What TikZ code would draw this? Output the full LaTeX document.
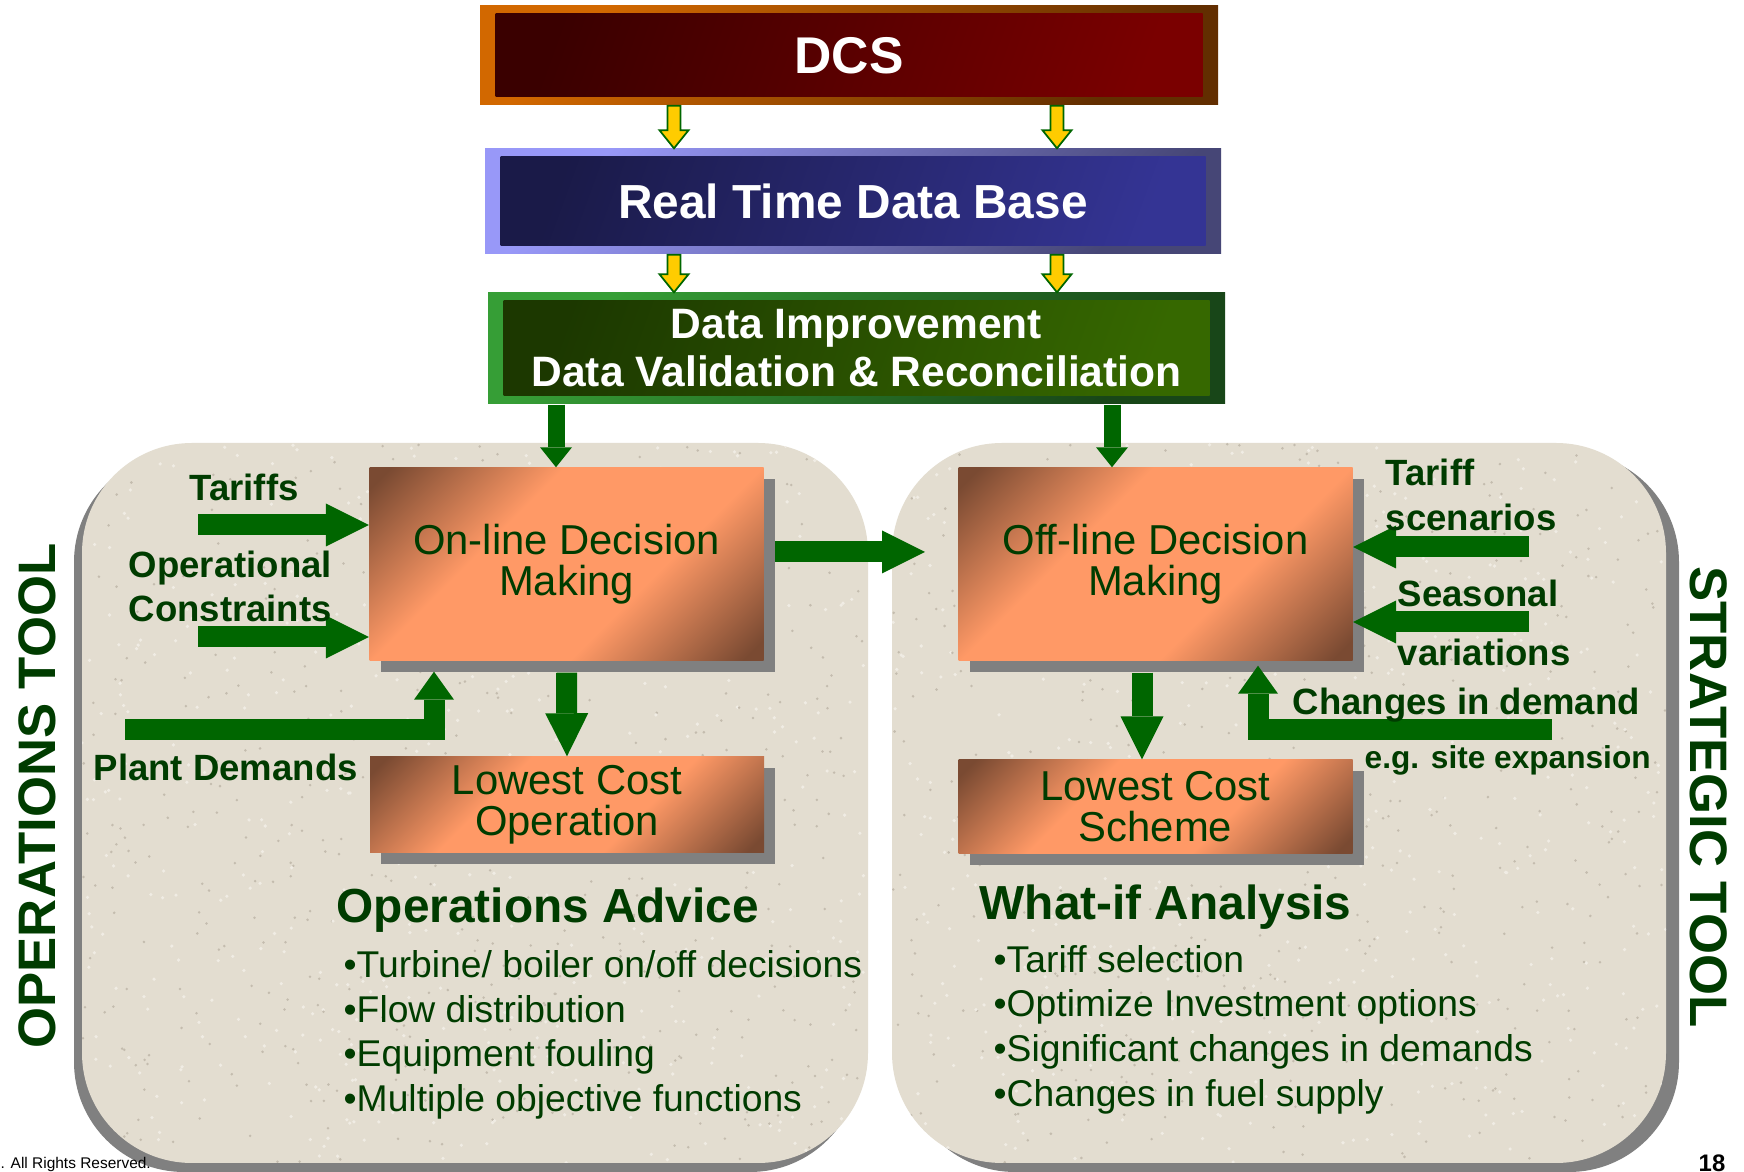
\documentclass[tikz,border=0pt]{standalone}
\usepackage{fontspec}
\setmainfont{Liberation Sans}
\usetikzlibrary{arrows.meta,calc,shadows}

\definecolor{dcsdark}{RGB}{58,0,0}
\definecolor{dcsred}{RGB}{122,0,0}
\definecolor{dcsrimA}{RGB}{210,104,0}
\definecolor{dcsrimB}{RGB}{98,46,0}
\definecolor{dbdark}{RGB}{26,26,72}
\definecolor{dbblue}{RGB}{52,52,148}
\definecolor{dbrimA}{RGB}{152,152,248}
\definecolor{dbrimB}{RGB}{70,70,118}
\definecolor{didark}{RGB}{28,56,0}
\definecolor{digreen}{RGB}{54,104,0}
\definecolor{dirimA}{RGB}{54,158,54}
\definecolor{dirimB}{RGB}{24,70,24}
\definecolor{boxbrown}{RGB}{122,74,50}
\definecolor{boxorange}{RGB}{255,153,102}
\definecolor{boxshadow}{RGB}{128,128,128}
\definecolor{panelbeige}{RGB}{227,221,208}
\definecolor{specklight}{RGB}{240,236,228}
\definecolor{speckdark}{RGB}{196,188,174}
\definecolor{flowgreen}{RGB}{0,102,0}
\definecolor{flowyellow}{RGB}{255,204,0}
\definecolor{txtgreen}{RGB}{0,60,0}

\pgfdeclareverticalshading{orangeband}{100bp}{color(0bp)=(boxbrown); color(17bp)=(boxbrown);
  color(38bp)=(boxorange); color(62bp)=(boxorange); color(83bp)=(boxbrown); color(100bp)=(boxbrown)}

\tikzset{
  topbox/.style={inner sep=0pt, text=white, align=center},
  inset/.style 2 args={path picture={\shade[left color=#1, right color=#2, shading angle=70]
      ([shift={(1.55mm,-0.8mm)}]path picture bounding box.north west) rectangle
      ([shift={(-1.55mm,0.8mm)}]path picture bounding box.south east);}},
  decbox/.style={shading=orangeband, shading angle=45,
      text=txtgreen, align=center, inner sep=0pt, minimum width=39.4mm,
      font=\fontsize{11.9}{11.7}\selectfont,
      drop shadow={shadow xshift=1.1mm, shadow yshift=-1.1mm, fill=boxshadow, opacity=1}},
  flow/.style={draw=flowgreen, line width=2.1mm, -{Triangle[length=4.3mm, width=4.3mm, line width=0pt]}},
  thinflow/.style={draw=flowgreen, line width=1.7mm, -{Triangle[length=2mm, width=3.2mm, line width=0pt]}},
  elbow/.style={draw=flowgreen, line width=2.1mm, line join=miter, -{Triangle[length=2.8mm, width=4mm, line width=0pt]}},
  labeltext/.style={text=txtgreen, font=\fontsize{10.4}{12.5}\bfseries, inner sep=0pt},
  heading/.style={text=txtgreen, font=\fontsize{13.6}{16}\bfseries, inner sep=0pt, anchor=west},
  bullets/.style={text=txtgreen, font=\fontsize{10.6}{12.7}\selectfont, inner sep=0pt, anchor=west, align=left},
  sidetag/.style={text=txtgreen, font=\fontsize{15}{18}\bfseries, inner sep=0pt}
}

% yellow block arrow between two points on one vertical
\newcommand\yarrow[2]{%
  \filldraw[fill=flowyellow, draw=flowgreen, line width=0.5pt, line join=miter]
    let \p1=(#1), \p2=(#2) in
    (\x1-0.65mm,\y1) -- (\x1-0.65mm,\y2+1.8mm) -- (\x1-1.45mm,\y2+1.8mm) -- (\x1,\y2)
    -- (\x1+1.45mm,\y2+1.8mm) -- (\x1+0.65mm,\y2+1.8mm) -- (\x1+0.65mm,\y1) -- cycle;}

% speckled beige panel: shadow offset, then face
\newcommand\panel[3]{%
  \fill[boxshadow, rounded corners=11mm] ($(#1)+(#3)$) rectangle ($(#2)+(#3)$);
  \fill[panelbeige, rounded corners=11mm] (#1) rectangle (#2);
  \begin{scope}
    \clip[rounded corners=11mm] (#1) rectangle (#2);
    \foreach \k in {1,...,500}{
      \fill[specklight] ($(#1)!rnd!(#1 -| #2)+(0,rnd*720)$) circle (0.18mm);
      \fill[speckdark] ($(#1)!rnd!(#1 -| #2)+(0,rnd*720)$) circle (0.14mm);}
  \end{scope}}

\begin{document}
\begin{tikzpicture}[x=0.1mm, y=-0.1mm]
		%%%%% START %%%%%
		\pgfmathsetseed{18}
		\useasboundingbox (0,0) rectangle (1744,1172);
		\fill[white] (0,0) rectangle (1744,1172);
		
		% panels
		\panel{82,443}{868,1163}{-8,9}
		\panel{892,443}{1666,1163}{13,9}
		
		% top chain
		\node[topbox, minimum width=73.8mm, minimum height=9.9mm, top color=dcsrimA, bottom color=dcsrimB, shading angle=45,
		      inset={dcsdark}{dcsred}, font=\fontsize{14.7}{16}\bfseries] (dcs) at (849,55.5) {DCS};
		\node[topbox, minimum width=73.6mm, minimum height=10.5mm, top color=dbrimA, bottom color=dbrimB, shading angle=45,
		      inset={dbdark}{dbblue}, font=\fontsize{13.6}{15}\bfseries] (rtdb) at (853,201.5) {Real Time Data Base};
		\node[topbox, minimum width=73.7mm, minimum height=11.1mm, top color=dirimA, bottom color=dirimB, shading angle=45,
		      inset={didark}{digreen}, font=\fontsize{12.1}{13.7}\bfseries] (dimp) at (856.5,348.5)
		      {Data Improvement\\Data Validation \& Reconciliation};
		
		\coordinate (ya) at (674,0);
		\coordinate (yb) at (1057,0);
		\yarrow{dcs.south -| ya}{rtdb.north -| ya}
		\yarrow{dcs.south -| yb}{rtdb.north -| yb}
		\yarrow{rtdb.south -| ya}{dimp.north -| ya}
		\yarrow{rtdb.south -| yb}{dimp.north -| yb}
		
		% decision boxes
		\node[decbox, minimum height=19.3mm] (online) at (566.5,564.5) {On-line Decision\\Making};
		\node[decbox, minimum height=9.6mm] (lco) at (567,805) {Lowest Cost\\Operation};
		\node[decbox, minimum height=19.3mm] (offline) at (1155.5,564.5) {Off-line Decision\\Making};
		\node[decbox, minimum height=9.4mm] (lcs) at (1155.5,807) {Lowest Cost\\Scheme};
		
		% free ends
		\coordinate (xa) at (556,0);
		\coordinate (xb) at (1112,0);
		\coordinate (xc) at (1142,0);
		\coordinate (oo) at (925,552);
		\coordinate (tarS) at (198,525);
		\coordinate (conS) at (198,637);
		\coordinate (plantS) at (125,730);
		\coordinate (plantK) at (434,730);
		\coordinate (scenS) at (1529,547);
		\coordinate (seasS) at (1529,622);
		\coordinate (chgS) at (1552,730);
		\coordinate (chgK) at (1258,730);
		
		\draw[thinflow] (dimp.south -| xa) -- (online.north -| xa);
		\draw[thinflow] (dimp.south -| xb) -- (offline.north -| xb);
		
		\draw[flow] (tarS) -- (tarS -| online.west);
		\draw[flow] (conS) -- (conS -| online.west);
		\draw[elbow] (plantS) -- (plantK) -- ($(plantK |- online.south)+(0,10)$);
		\draw[flow] ($(online.south)+(0,11)$) -- (lco.north);
		\draw[flow] ($(online.east |- oo)+(11,0)$) -- (oo);
		
		\draw[flow] (scenS) -- (scenS -| offline.east);
		\draw[flow] (seasS) -- (seasS -| offline.east);
		\draw[elbow] (chgS) -- (chgK) -- ($(chgK |- offline.south)+(0,4)$);
		\draw[flow] ($(offline.south -| xc)+(0,11)$) -- (lcs.north -| xc);
		
		% labels
		\node[labeltext] (tariffs) at (244,487) {Tariffs};
		\node[labeltext, anchor=west, align=left] (opcons) at (128,586) {Operational\\Constraints};
		\node[labeltext, anchor=west] (plantdem) at (93,767) {Plant Demands};
		\node[labeltext, anchor=west, align=left, font=\fontsize{10.4}{12.8}\bfseries] (tarscen) at (1385,494.5) {Tariff\\scenarios};
		\node[labeltext, anchor=west, align=left, font=\fontsize{10.4}{17}\bfseries] (seasvar) at (1397,623) {Seasonal\\variations};
		\node[labeltext, anchor=west] (chgdem) at (1292,705) {Changes in demand};
		\node[labeltext, anchor=west, font=\fontsize{9}{10}\bfseries] (siteexp) at (1364,760) {e.g. site expansion};
		
		\node[heading] (opadv) at (336,910) {Operations Advice};
		\node[bullets] (opitems) at (343,1035) {\textbullet Turbine/ boiler on/off decisions\\\textbullet Flow distribution\\\textbullet Equipment fouling\\\textbullet Multiple objective functions};
		\node[heading] (whatif) at (979,907) {What-if Analysis};
		\node[bullets] (wiitems) at (993,1029.5) {\textbullet Tariff selection\\\textbullet Optimize Investment options\\\textbullet Significant changes in demands\\\textbullet Changes in fuel supply};
		
		\node[sidetag, rotate=90] (optool) at (37,796) {OPERATIONS TOOL};
		\node[sidetag, rotate=-90] (strtool) at (1709,797) {STRATEGIC TOOL};
		
		\node[anchor=west, inner sep=0pt, font=\fontsize{4.4}{5}\selectfont] (rights) at (0,1165) {. All Rights Reserved.};
		\node[inner sep=0pt, font=\fontsize{6.8}{8}\bfseries] (pagenum) at (1712,1163) {18};
		%%%%% END %%%%%
\end{tikzpicture}
\end{document}
